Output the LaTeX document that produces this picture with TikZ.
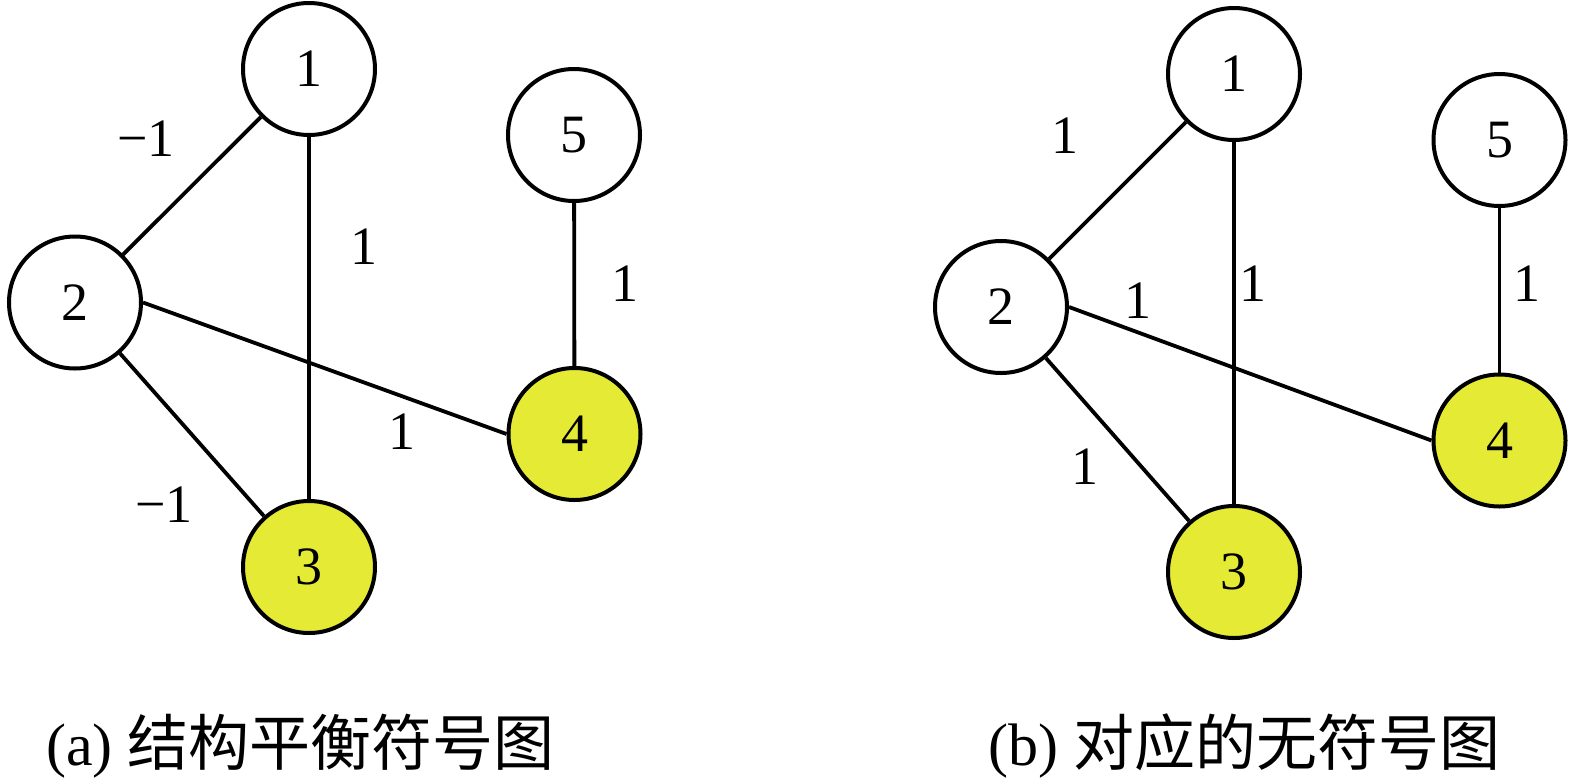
\documentclass[tikz,border=0pt]{standalone}
\usepackage{fontspec}
\setmainfont{Liberation Serif}
\newfontfamily\cjk{Noto Sans CJK SC}
\definecolor{nodeyellow}{RGB}{229,235,52}
\begin{document}
\begin{tikzpicture}[x=1pt,y=-1pt,
  vert/.style={circle,draw=black,line width=4pt,minimum size=132pt,inner sep=0pt,fill=white,
    font=\fontsize{54}{60}\selectfont},
  hot/.style={vert,fill=nodeyellow},
  edge/.style={draw=black,line width=3.8pt},
  lbl/.style={font=\fontsize{54}{60}\selectfont,inner sep=0pt},
  captext/.style={font=\fontsize{60}{66}\selectfont,anchor=base west,inner sep=0pt}]
\useasboundingbox (0,0) rectangle (1575,777);
% ---- (a)
\node[vert] (a1) at (309,69) {1};
\node[vert] (a2) at (75,302.5) {2};
\node[hot]  (a3) at (309,567) {3};
\node[hot]  (a4) at (574.5,434) {4};
\node[vert] (a5) at (574,135) {5};
\draw[edge] (a1) -- (a2);
\draw[edge] (a1) -- (a3);
\draw[edge] (a2.east) -- (a4.west);
\draw[edge] (a2) -- (a3);
\draw[edge] (a5) -- (a4);
\node[lbl] (la12) at (146,139) {−1};
\node[lbl] (la13) at (364,247) {1};
\node[lbl] (la54) at (625,284) {1};
\node[lbl] (la24) at (402,432) {1};
\node[lbl] (la23) at (164,505) {−1};
% ---- (b)
\node[vert] (b1) at (1234,74) {1};
\node[vert] (b2) at (1001,307) {2};
\node[hot]  (b3) at (1234,572) {3};
\node[hot]  (b4) at (1499.5,440.5) {4};
\node[vert] (b5) at (1499.5,140) {5};
\draw[edge] (b1) -- (b2);
\draw[edge] (b1) -- (b3);
\draw[edge] (b2.east) -- (b4.west);
\draw[edge] (b2) -- (b3);
\draw[edge] (b5) -- (b4);
\node[lbl] (lb12) at (1065,136) {1};
\node[lbl] (lb13) at (1253,284) {1};
\node[lbl] (lb54) at (1527,284) {1};
\node[lbl] (lb24) at (1138,301) {1};
\node[lbl] (lb23) at (1085,467) {1};
% ---- captions
\node[captext] (capa) at (46,765) {(a) {\fontsize{61}{66}\selectfont\cjk 结构平衡符号图}};
\node[captext] (capb) at (988,765) {(b) {\fontsize{61}{66}\selectfont\cjk 对应的无符号图}};
\end{tikzpicture}
\end{document}
